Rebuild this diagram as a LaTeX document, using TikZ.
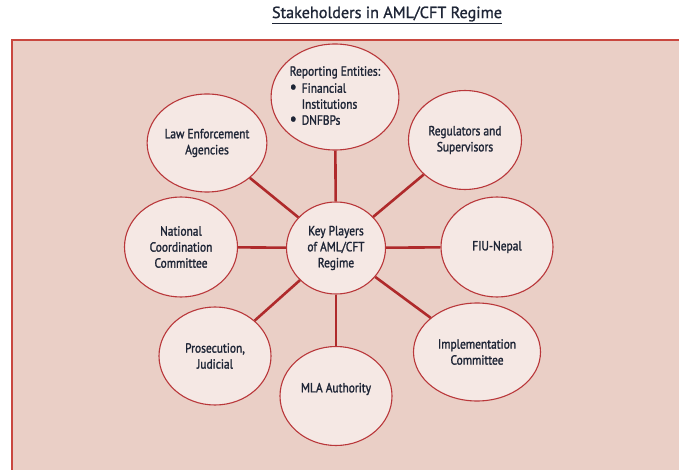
\documentclass[tikz,border=0pt]{standalone}
\usepackage{fontspec}
\setmainfont{PT Sans}[FakeBold=1.2]
\newfontfamily\narrowfont{PT Sans}[FakeStretch=0.86, FakeBold=1.6]
\usetikzlibrary{shapes.geometric}

\definecolor{panelfill}{HTML}{EACFC6}
\definecolor{paneldraw}{HTML}{C9473F}
\definecolor{bubblefill}{HTML}{F5E8E4}
\definecolor{bubbledraw}{HTML}{B9373A}
\definecolor{spoke}{HTML}{AF2A2B}
\definecolor{ink}{HTML}{1E2536}

\newcommand{\dotitem}{\raisebox{0pt}[1ex][0pt]{\scalebox{1.35}{\textbullet}}\hspace{5pt}}

\begin{document}
\begin{tikzpicture}[
  x=1pt, y=-1pt,
  player/.style={ellipse, draw=bubbledraw, line width=1.1pt, fill=bubblefill,
    inner sep=0pt, text=ink, align=center,
    font=\narrowfont\fontsize{13.3}{16}\selectfont},
  link/.style={draw=spoke, line width=2.6pt}
]
\clip (0,0) rectangle (679,470);

% Panel and heading
\fill[white] (0,0) rectangle (679,470);
\draw[paneldraw, fill=panelfill, line width=1.2pt] (12,40) rectangle (700,490);
\node[text=ink, font=\fontsize{16.2}{19}\selectfont, inner sep=1pt] (title) at (387,15)
  {\underline{Stakeholders in AML/CFT Regime}};

% Nodes
\node[player, minimum width=99pt, minimum height=92pt] (key) at (336,248)
  {Key Players\\of AML/CFT\\Regime};
\node[player, minimum width=124pt, minimum height=106pt] (rep) at (335,97)
  {\begin{tabular}{@{}l@{}}Reporting Entities:\\[1pt]
   \dotitem Financial\\ \phantom{\dotitem}Institutions\\
   \dotitem DNFBPs\end{tabular}};
\node[player, minimum width=112pt, minimum height=98pt] (law) at (207,143)
  {Law Enforcement\\Agencies};
\node[player, minimum width=113pt, minimum height=99pt] (reg) at (465,140)
  {Regulators and\\Supervisors};
\node[player, minimum width=113pt, minimum height=100pt] (nat) at (181,247)
  {National\\Coordination\\Committee};
\node[player, minimum width=112pt, minimum height=100pt] (fiu) at (497,247)
  {FIU-Nepal};
\node[player, minimum width=112pt, minimum height=98pt] (pro) at (215,356)
  {Prosecution,\\Judicial};
\node[player, minimum width=112pt, minimum height=99pt] (mla) at (336,396)
  {\raisebox{7pt}[\height][\depth]{MLA Authority}};
\node[player, minimum width=127pt, minimum height=98pt] (imp) at (477,352)
  {Implementation\\Committee};

% Spokes
\foreach \p in {rep,law,reg,nat,fiu,pro,mla,imp}
  \draw[link] (key) -- (\p);
\end{tikzpicture}
\end{document}
